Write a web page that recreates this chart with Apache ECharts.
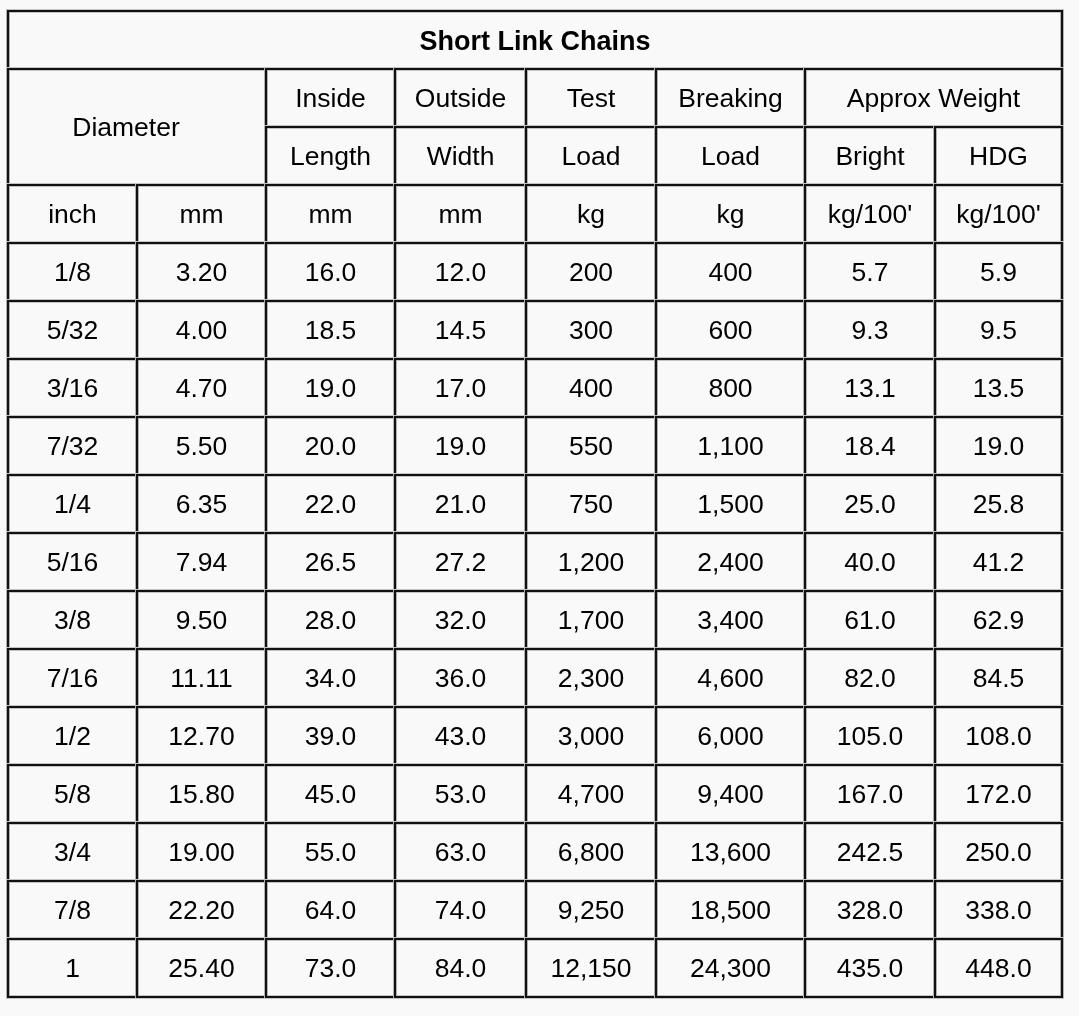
<!DOCTYPE html>
<html><head><meta charset="utf-8">
<script src="https://cdn.jsdelivr.net/npm/echarts@6/dist/echarts.min.js"></script>
<style>html,body{margin:0;padding:0;background:#f9f9f9;}#c{width:1079px;height:1016px;}</style>
</head><body><div id="c"></div>
<script>
// ---- data ----
const title = 'Short Link Chains';
const headTop = ['Inside', 'Outside', 'Test', 'Breaking'];
const headBottom = ['Length', 'Width', 'Load', 'Load', 'Bright', 'HDG'];
const groupDiameter = 'Diameter';
const groupWeight = 'Approx Weight';
const units = ['inch', 'mm', 'mm', 'mm', 'kg', 'kg', "kg/100'", "kg/100'"];
const inch = ['1/8','5/32','3/16','7/32','1/4','5/16','3/8','7/16','1/2','5/8','3/4','7/8','1'];
const mm = [3.20,4.00,4.70,5.50,6.35,7.94,9.50,11.11,12.70,15.80,19.00,22.20,25.40];
const insideLength = [16.0,18.5,19.0,20.0,22.0,26.5,28.0,34.0,39.0,45.0,55.0,64.0,73.0];
const outsideWidth = [12.0,14.5,17.0,19.0,21.0,27.2,32.0,36.0,43.0,53.0,63.0,74.0,84.0];
const testLoad = [200,300,400,550,750,1200,1700,2300,3000,4700,6800,9250,12150];
const breakingLoad = [400,600,800,1100,1500,2400,3400,4600,6000,9400,13600,18500,24300];
const weightBright = [5.7,9.3,13.1,18.4,25.0,40.0,61.0,82.0,105.0,167.0,242.5,328.0,435.0];
const weightHDG = [5.9,9.5,13.5,19.0,25.8,41.2,62.9,84.5,108.0,172.0,250.0,338.0,448.0];

// ---- layout (column widths in px, rows equal) ----
const colWidths = [129,129,129,131,130,149,130,127];
const colEdges = [0];
colWidths.forEach(w => colEdges.push(colEdges[colEdges.length-1] + w));
const nRows = 4 + inch.length;

const fmt2 = v => v.toFixed(2);
const fmt1 = v => v.toFixed(1);
const fmtInt = v => v.toLocaleString('en-US');

// cells: [c0, c1, r0, r1, text, bold, textOffsetX]
const cells = [];
cells.push([0, 8, 0, 1, title, true, 0]);
cells.push([0, 2, 1, 3, groupDiameter, false, -11]);
headTop.forEach((t, i) => cells.push([2+i, 3+i, 1, 2, t, false, 0]));
cells.push([6, 8, 1, 2, groupWeight, false, 0]);
headBottom.forEach((t, i) => cells.push([2+i, 3+i, 2, 3, t, false, 0]));
units.forEach((t, i) => cells.push([i, i+1, 3, 4, t, false, 0]));
inch.forEach((_, r) => {
  const row = [inch[r], fmt2(mm[r]), fmt1(insideLength[r]), fmt1(outsideWidth[r]),
    fmtInt(testLoad[r]), fmtInt(breakingLoad[r]), fmt1(weightBright[r]), fmt1(weightHDG[r])];
  row.forEach((t, c) => cells.push([c, c+1, 4+r, 5+r, t, false, 0]));
});

const data = cells.map(c => [colEdges[c[0]], colEdges[c[1]], c[2], c[3]]);

const chart = echarts.init(document.getElementById('c'), null, {renderer: 'canvas'});
chart.setOption({
  backgroundColor: '#f9f9f9',
  animation: false,
  grid: {left: 8, top: 11, width: 1054, height: 986},
  xAxis: {type: 'value', min: 0, max: colEdges[colEdges.length-1], show: false},
  yAxis: {type: 'value', min: 0, max: nRows, inverse: true, show: false},
  series: [{
    type: 'custom',
    data: data,
    encode: {x: [0, 1], y: [2, 3]},
    renderItem: function (params, api) {
      const p0 = api.coord([api.value(0), api.value(2)]);
      const p1 = api.coord([api.value(1), api.value(3)]);
      const cell = cells[params.dataIndex];
      const x = p0[0], y = p0[1], w = p1[0] - p0[0], h = p1[1] - p0[1];
      return {
        type: 'group',
        children: [
          {type: 'rect', shape: {x: x, y: y, width: w, height: h},
           style: {fill: 'none', stroke: '#c4c4c4', lineWidth: 4}},
          {type: 'rect', shape: {x: x, y: y, width: w, height: h},
           style: {fill: 'none', stroke: '#111', lineWidth: 2.2}},
          {type: 'text', x: x + w/2 + cell[6], y: y + h/2 + (cell[5] ? 3 : 2),
           style: {text: cell[4], fill: '#000', align: 'center', verticalAlign: 'middle',
             font: (cell[5] ? 'bold 27px' : '26.5px') + ' "Liberation Sans", Arial, sans-serif'}}
        ]
      };
    }
  }]
});
</script></body></html>
